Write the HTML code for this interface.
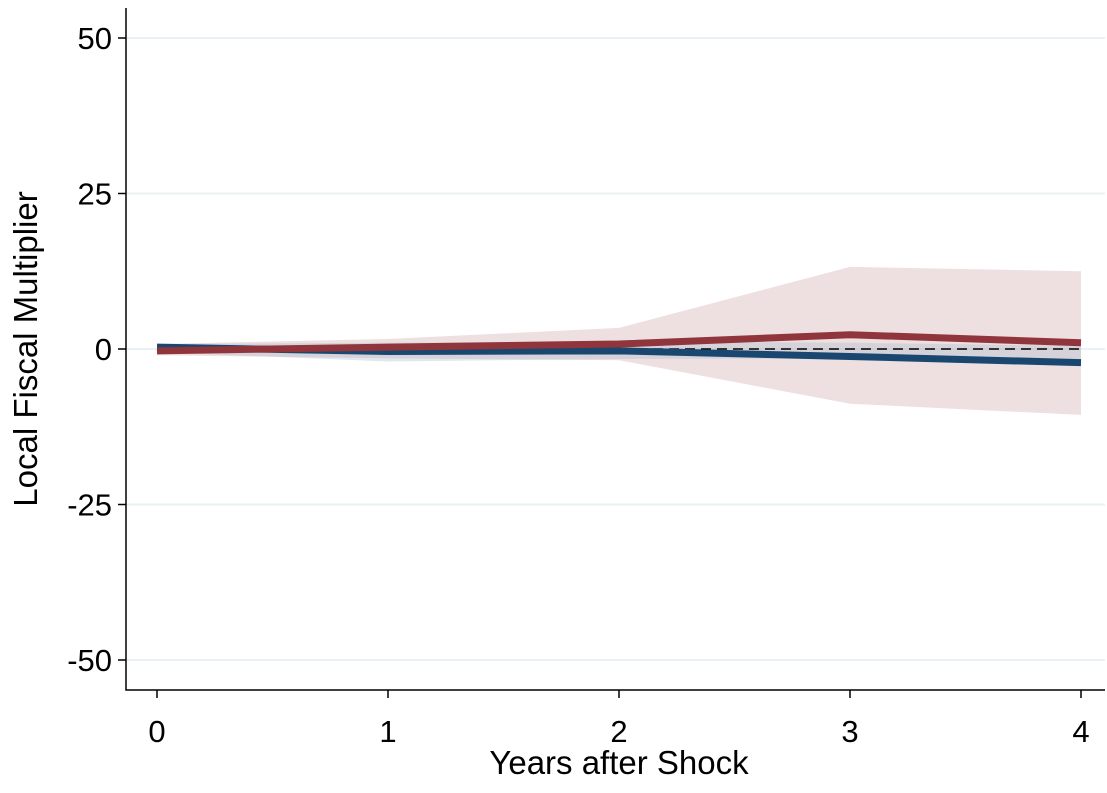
<!DOCTYPE html>
<html><head><meta charset="utf-8"><style>
body{margin:0;background:#fff}
svg{display:block;font-family:"Liberation Sans",Arial,sans-serif}
</style></head><body>
<svg id="chart" width="1107" height="793"></svg>
<script>
const years=[0,1,2,3,4];
const yTicks=[50,25,0,-25,-50];
const xTicks=[0,1,2,3,4];
const redLine=[-0.3,0.3,0.8,2.3,1.0];
const redUpper=[0.8,1.6,3.4,13.2,12.5];
const redLower=[-1.0,-1.5,-1.8,-8.8,-10.6];
const blueLine=[0.3,-0.4,-0.3,-1.2,-2.2];
const blueUpper=[0.8,1.0,1.2,1.0,0.5];
const blueLower=[-0.5,-2.0,-1.6,-1.5,-2.5];
const NS="http://www.w3.org/2000/svg";
const svg=document.getElementById('chart');
const X=v=>157+v*231;
const Y=v=>349-v*6.22;
function mk(t,a,txt){const e=document.createElementNS(NS,t);for(const k in a)e.setAttribute(k,a[k]);if(txt!==undefined)e.textContent=txt;svg.appendChild(e);return e;}
yTicks.forEach(t=>{
 const g=mk('line',{x1:127,x2:1105,y1:Y(t),y2:Y(t),stroke:'#eaf0f3','stroke-width':2});
 
 
 const tk=mk('line',{x1:118,x2:126,y1:Y(t),y2:Y(t),stroke:'#000','stroke-width':1.5});
 
 
 const l=mk('text',{x:112,y:Y(t)+11,'text-anchor':'end','font-size':31},String(t));
 
 
});
xTicks.forEach(t=>{
 const tk=mk('line',{x1:X(t),x2:X(t),y1:690,y2:698,stroke:'#000','stroke-width':1.5});
 
 
 const l=mk('text',{x:X(t),y:742,'text-anchor':'middle','font-size':31},String(t));
 
 
});
function band(up,lo,fill,name){
 const pts=years.map((y,i)=>X(y)+','+Y(up[i])).concat(years.slice().reverse().map((y,j)=>{const i=years.length-1-j;return X(y)+','+Y(lo[i]);}));
 const p=mk('polygon',{points:pts.join(' '),fill:fill});
 
 
}
band(redUpper,redLower,'rgba(200,150,155,0.3)','red-confidence-band');
band(blueUpper,blueLower,'rgba(170,185,205,0.35)','blue-confidence-band');
const z=mk('line',{x1:X(0),x2:X(4),y1:Y(0),y2:Y(0),stroke:'#000','stroke-width':1.5,'stroke-dasharray':'10,6'});


function line(vals,col,name){
 const p=mk('polyline',{points:years.map((y,i)=>X(y)+','+Y(vals[i])).join(' '),fill:'none',stroke:col,'stroke-width':7});
 
 
}
line(blueLine,'#1a476f','blue-series-line');
line(redLine,'#90353b','red-series-line');
const ax=mk('polyline',{points:'126,8 126,690 1105,690',fill:'none',stroke:'#000','stroke-width':1.5});


const xt=mk('text',{x:619,y:774,'text-anchor':'middle','font-size':33},'Years after Shock');


const yt=mk('text',{x:0,y:0,'text-anchor':'middle','font-size':33,transform:'translate(37,349) rotate(-90)'},'Local Fiscal Multiplier');


</script>
</body></html>
